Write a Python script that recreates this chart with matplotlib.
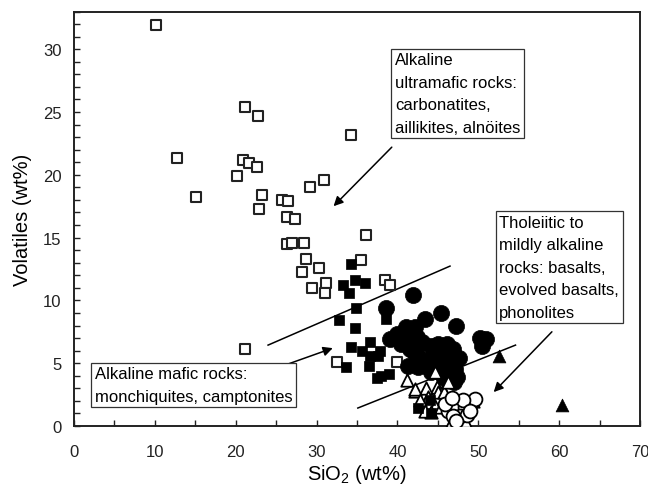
import matplotlib
matplotlib.use('Agg')
import matplotlib.pyplot as plt
from matplotlib.ticker import MultipleLocator

plt.rcParams['font.family'] = ['Liberation Sans', 'DejaVu Sans']
plt.rcParams['mathtext.default'] = 'regular'

# alkaline ultramafic rocks (open squares)
sq_open_x = [10.2, 21.1, 22.8, 34.2, 12.7, 20.9, 21.7, 22.6, 20.2, 30.9, 29.2, 15.1,
             23.2, 22.9, 25.7, 26.5, 26.3, 27.3, 36.1, 26.4, 26.9, 28.5, 28.7, 28.2,
             30.3, 29.4, 31.2, 31.0, 35.5, 38.4, 39.1, 21.1, 32.5, 39.9]
sq_open_y = [31.9, 25.4, 24.7, 23.2, 21.3, 21.2, 20.9, 20.6, 19.9, 19.6, 19.0, 18.2,
             18.4, 17.3, 18.0, 17.9, 16.6, 16.5, 15.2, 14.5, 14.6, 14.6, 13.3, 12.3,
             12.6, 11.0, 11.4, 10.6, 13.2, 11.6, 11.2, 6.1, 5.1, 5.1]

# alkaline mafic rocks (filled squares)
sq_fill_x = [34.3, 33.3, 34.0, 34.7, 36.0, 34.9, 32.8, 38.6, 34.7, 34.3, 35.6, 36.6,
             37.8, 37.6, 36.6, 33.6, 36.5, 37.5, 38.9, 38.0, 44.0, 44.2, 42.6]
sq_fill_y = [12.9, 11.2, 10.6, 11.6, 11.4, 9.4, 8.4, 8.5, 7.8, 6.3, 6.0, 6.7,
             6.0, 5.6, 5.6, 4.7, 4.8, 3.8, 4.1, 4.0, 2.1, 1.0, 1.4]

# tholeiitic to mildly alkaline rocks (filled circles)
ci_fill_x = [41.9, 38.6, 45.4, 43.4, 47.3, 41.0, 42.2, 39.9, 41.5, 42.4, 39.1, 50.2,
             51.0, 50.4, 44.2, 45.0, 46.1, 46.9, 41.5, 42.4, 44.4, 45.6, 43.2, 41.3,
             42.6, 43.8, 46.1, 47.1, 46.7, 45.2, 44.1, 47.0, 40.5, 43.0, 44.8, 46.3,
             47.6, 42.0, 45.8, 47.4]
ci_fill_y = [10.4, 9.4, 9.0, 8.5, 8.0, 7.9, 7.85, 7.3, 7.2, 7.05, 6.9, 6.98,
             6.9, 6.4, 6.4, 6.5, 6.5, 6.1, 6.1, 5.7, 5.7, 5.6, 5.2, 4.8,
             4.7, 4.7, 4.8, 4.5, 4.0, 4.3, 4.3, 3.5, 6.5, 6.7, 5.0, 5.3,
             5.4, 5.9, 3.8, 3.9]

# open triangles
tr_open_x = [41.2, 42.2, 43.5, 44.6, 43.8, 44.9, 45.6, 44.6, 44.2, 48.1, 49.4, 42.2,
             42.8, 43.4, 45.0, 45.4, 45.7, 46.3, 46.7, 47.7, 48.3]
tr_open_y = [3.7, 2.8, 3.0, 4.3, 2.3, 3.1, 2.9, 1.6, 1.1, 0.15, 2.0, 2.95,
             2.1, 1.2, 2.7, 1.5, 2.7, 3.5, 0.4, 0.15, 0.4]

# open circles
ci_open_x = [46.3, 47.3, 48.3, 49.2, 49.6, 47.7, 48.6, 46.9, 45.9, 48.1, 46.7, 49.0, 47.3]
ci_open_y = [1.2, 1.6, 1.5, 1.9, 2.15, 0.8, 0.9, 0.8, 1.75, 2.1, 2.2, 1.2, 0.4]

# filled triangles
tr_fill_x = [52.5, 60.3]
tr_fill_y = [5.6, 1.7]

fig = plt.figure(figsize=(6.48, 4.85), dpi=100)
ax = fig.add_axes([0.1142, 0.1196, 0.8735, 0.8546])

ax.scatter(sq_open_x, sq_open_y, marker='s', s=42, facecolor='white', edgecolor='#222222', linewidth=1.5, zorder=3)
ax.scatter(ci_fill_x, ci_fill_y, marker='o', s=135, facecolor='black', edgecolor='black', linewidth=0.5, zorder=3)
ax.scatter(tr_open_x, tr_open_y, marker='^', s=80, facecolor='white', edgecolor='black', linewidth=1.3, zorder=4)
ax.scatter(sq_fill_x, sq_fill_y, marker='s', s=55, facecolor='black', edgecolor='black', linewidth=0.5, zorder=4)
ax.scatter(ci_open_x, ci_open_y, marker='o', s=100, facecolor='white', edgecolor='black', linewidth=1.3, zorder=5)
ax.scatter(tr_fill_x, tr_fill_y, marker='^', s=85, facecolor='black', edgecolor='black', linewidth=0.5, zorder=5)

# dividing lines
ax.plot([24.0, 46.5], [6.44, 12.73], color='black', lw=1.1, zorder=2)
ax.plot([35.1, 54.6], [1.43, 6.44], color='black', lw=1.1, zorder=2)

arrow = dict(arrowstyle='-|>', color='black', lw=1.1, mutation_scale=14, shrinkA=0, shrinkB=0)
ax.annotate('', xy=(32.1, 17.5), xytext=(39.3, 22.2), arrowprops=arrow)
ax.annotate('', xy=(51.9, 2.7), xytext=(59.1, 7.5), arrowprops=arrow)
ax.annotate('', xy=(32.0, 6.2), xytext=(26.45, 4.93), arrowprops=arrow)

box = dict(boxstyle='square,pad=0.22', facecolor='white', edgecolor='#333333', linewidth=0.9)
ax.text(39.7, 29.75, 'Alkaline\nultramafic rocks:\ncarbonatites,\naillikites, alnöites',
        ha='left', va='top', fontsize=12, linespacing=1.62, bbox=box, zorder=6)
ax.text(52.6, 16.8, 'Tholeiitic to\nmildly alkaline\nrocks: basalts,\nevolved basalts,\nphonolites',
        ha='left', va='top', fontsize=12, linespacing=1.62, bbox=box, zorder=6)
ax.text(2.6, 4.75, 'Alkaline mafic rocks:\nmonchiquites, camptonites',
        ha='left', va='top', fontsize=12, linespacing=1.62, bbox=box, zorder=6)

ax.set_xlim(0, 70)
ax.set_ylim(0, 33)
ax.xaxis.set_major_locator(MultipleLocator(10))
ax.xaxis.set_minor_locator(MultipleLocator(5))
ax.yaxis.set_major_locator(MultipleLocator(5))
ax.yaxis.set_minor_locator(MultipleLocator(1))
ax.tick_params(axis='both', which='both', direction='in', length=4.5, width=1.0, labelsize=12, colors='#222222')
ax.tick_params(axis='x', which='both', pad=13)
ax.tick_params(axis='y', which='both', pad=9)
for sp in ax.spines.values():
    sp.set_linewidth(1.4)
    sp.set_color('#222222')

ax.set_xlabel('SiO$_2$ (wt%)', fontsize=14.5, labelpad=2)
ax.set_ylabel('Volatiles (wt%)', fontsize=14.5, labelpad=8)

fig.savefig('out.png', dpi=100)
